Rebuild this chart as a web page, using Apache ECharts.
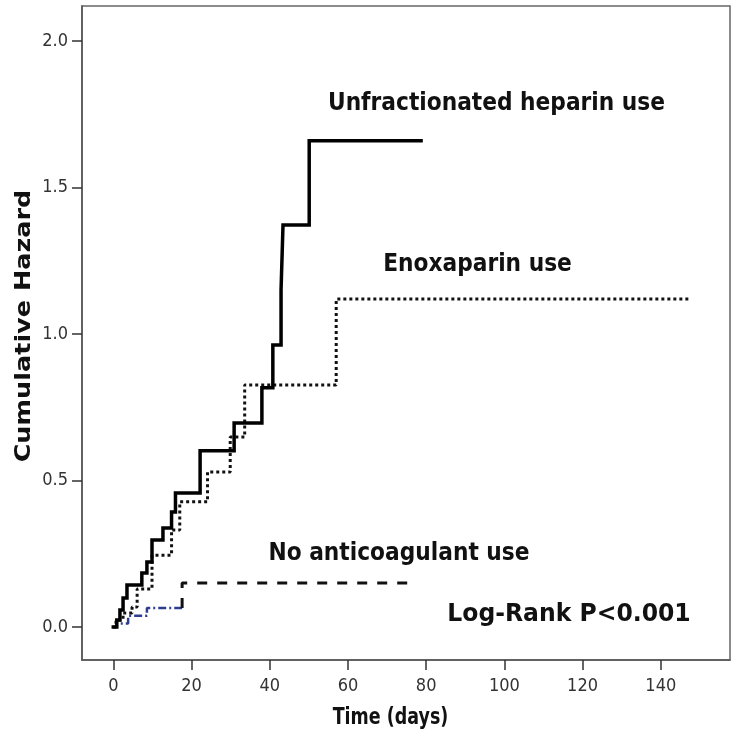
<!DOCTYPE html>
<html>
<head>
<meta charset="utf-8">
<script src="https://cdn.jsdelivr.net/npm/echarts@6/dist/echarts.min.js"></script>
<style>
html,body{margin:0;padding:0;background:#fff;}
#chart{width:738px;height:742px;}
</style>
</head>
<body>
<div id="chart"></div>
<script>
// ---- data ----
const xTicks = [0, 20, 40, 60, 80, 100, 120, 140];
const yTicks = [0, 0.5, 1.0, 1.5, 2.0];

const ufhTime   = [0, 0.9, 1.7, 2.5, 3.5, 7.3, 8.6, 9.9, 12.7, 14.9, 15.9, 22.2, 30.9, 38.0, 40.8, 42.9, 43.4, 50.1, 78.7];
const ufhHazard = [0, 0.024, 0.058, 0.099, 0.143, 0.184, 0.222, 0.297, 0.338, 0.392, 0.457, 0.601, 0.696, 0.816, 0.962, 1.150, 1.372, 1.659, 1.659];

const enoxTime   = [0, 0.7, 2.5, 4.8, 6.1, 9.9, 14.9, 17.0, 24.1, 29.9, 33.6, 57.0, 147.5];
const enoxHazard = [0, 0.024, 0.048, 0.068, 0.130, 0.245, 0.331, 0.427, 0.529, 0.648, 0.826, 1.119, 1.119];

const noneTime   = [0, 0.8, 3.8, 8.6, 17.6, 75.9];
const noneHazard = [0, 0.012, 0.038, 0.065, 0.150, 0.150];
const noneBlueUntil = 17.6; // early part of this curve is drawn in dark blue in the reference

const labels = {
  ufh: 'Unfractionated heparin use',
  enox: 'Enoxaparin use',
  none: 'No anticoagulant use',
  test: 'Log-Rank P<0.001',
  xTitle: 'Time (days)',
  yTitle: 'Cumulative Hazard'
};

function pairs(t, v) { return t.map((x, i) => [x, v[i]]); }

// split the no-anticoagulant curve into its early (blue) and late (black) pieces
const kSplit = noneTime.indexOf(noneBlueUntil);
const noneEarly = pairs(noneTime.slice(0, kSplit), noneHazard.slice(0, kSplit))
  .concat([[noneTime[kSplit], noneHazard[kSplit - 1]]]);
const noneLate = [[noneTime[kSplit], noneHazard[kSplit - 1]]]
  .concat(pairs(noneTime.slice(kSplit), noneHazard.slice(kSplit)));

const chart = echarts.init(document.getElementById('chart'), null, {renderer: 'canvas'});
const tickFont = "'Liberation Sans Narrow', 'DejaVu Sans Condensed', 'Liberation Sans', sans-serif";
const boldFont = "'DejaVu Sans', sans-serif";

function txt(text, x, y, size, sx, extra) {
  return Object.assign({
    type: 'text', x: x, y: y, scaleX: sx, z: 100,
    style: {text: text, fontFamily: boldFont, fontWeight: 'bold', fontSize: size,
            fill: '#111', textAlign: 'center', textVerticalAlign: 'middle'}
  }, extra || {});
}

chart.setOption({
  animation: false,
  backgroundColor: '#fff',
  grid: {left: 82, right: 8, top: 6, bottom: 82, show: true, borderColor: '#666', borderWidth: 1.5},
  xAxis: {
    type: 'value', min: -8.0, max: 157.7,
    axisLine: {show: true, onZero: false, lineStyle: {color: '#555', width: 1.5}},
    axisTick: {show: true, customValues: xTicks, length: 10, lineStyle: {color: '#333', width: 1.5}},
    axisLabel: {customValues: xTicks, margin: 17, fontFamily: tickFont, fontSize: 18, color: '#333'},
    splitLine: {show: false}
  },
  yAxis: {
    type: 'value', min: -0.1126, max: 2.119,
    axisLine: {show: true, onZero: false, lineStyle: {color: '#555', width: 1.5}},
    axisTick: {show: true, customValues: yTicks, length: 10, lineStyle: {color: '#333', width: 1.5}},
    axisLabel: {customValues: yTicks, margin: 14, fontFamily: tickFont, fontSize: 18, color: '#333',
                formatter: v => v.toFixed(1)},
    splitLine: {show: false}
  },
  series: [
    {name: labels.ufh, type: 'line', step: 'end', showSymbol: false, data: pairs(ufhTime, ufhHazard),
     lineStyle: {color: '#000', width: 3.5, cap: 'square', join: 'miter'}, z: 5},
    {name: labels.enox, type: 'line', step: 'end', showSymbol: false, data: pairs(enoxTime, enoxHazard),
     lineStyle: {color: '#111', width: 3, type: [3, 3], cap: 'butt'}, z: 4},
    {name: labels.none, type: 'line', step: 'end', showSymbol: false, data: noneEarly,
     lineStyle: {color: '#2e3d8f', width: 2.5, type: [8, 3, 2, 3], cap: 'butt'}, z: 3},
    {name: labels.none, type: 'line', step: 'end', showSymbol: false, data: noneLate,
     lineStyle: {color: '#111', width: 3, type: [10, 10], cap: 'butt'}, z: 3}
  ],
  graphic: [
    txt(labels.ufh, 496.5, 103, 25, 0.87),
    txt(labels.enox, 477.5, 264, 25, 0.87),
    txt(labels.none, 399, 553, 25, 0.87),
    txt(labels.test, 569, 614, 25, 0.94),
    txt(labels.xTitle, 390.5, 718, 23, 0.76),
    txt(labels.yTitle, 24, 326, 25.5, 1, {rotation: Math.PI / 2, scaleY: 0.85})
  ]
});
</script>
</body>
</html>
